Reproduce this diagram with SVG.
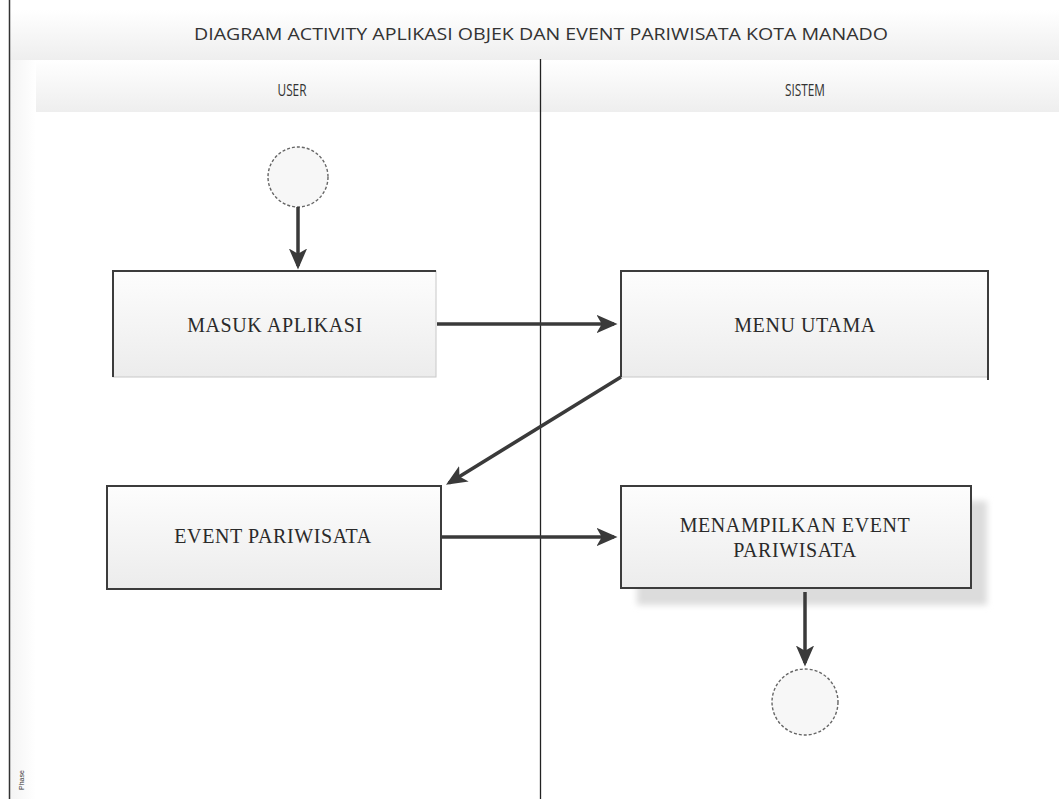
<svg xmlns="http://www.w3.org/2000/svg" width="1059" height="799" viewBox="0 0 1059 799">
  <style>
    .hdr { font-family: "Open Sans", "Liberation Sans", sans-serif; font-size: 17px; fill: #333; text-anchor: middle; }
    .lbl { font-family: "Liberation Serif", "Times New Roman", serif; font-size: 20px; letter-spacing: 0.6px; fill: #2a2a2a; text-anchor: middle; }
    .box { fill: url(#boxFill); stroke: #c8c8c8; stroke-width: 1; }
    .edge { fill: none; stroke: #3c3c3c; stroke-width: 2; }
    .term { fill: #f7f7f7; stroke: #666; stroke-width: 1.4; stroke-dasharray: 3 2; }
    .flow { stroke: #3a3a3a; stroke-width: 3.5; fill: none; marker-end: url(#arrow); }
  </style>
  <defs>
    <linearGradient id="boxFill" x1="0" y1="0" x2="0" y2="1">
      <stop offset="0" stop-color="#fdfdfd"/>
      <stop offset="1" stop-color="#ececec"/>
    </linearGradient>
    <linearGradient id="bandFill" x1="0" y1="0" x2="0" y2="1">
      <stop offset="0" stop-color="#ffffff"/>
      <stop offset="1" stop-color="#eeeeee"/>
    </linearGradient>
    <linearGradient id="phaseFill" x1="0" y1="0" x2="1" y2="0">
      <stop offset="0" stop-color="#f4f4f4"/>
      <stop offset="1" stop-color="#ffffff"/>
    </linearGradient>
    <filter id="soft" x="-10%" y="-10%" width="120%" height="120%">
      <feGaussianBlur stdDeviation="3"/>
    </filter>
    <marker id="arrow" markerWidth="6" markerHeight="6" refX="5" refY="3" orient="auto" markerUnits="strokeWidth">
      <path d="M0,0.4 L6,3 L0,5.6 L1.5,3 Z" fill="#3a3a3a"/>
    </marker>
  </defs>

  <rect width="1059" height="799" fill="#ffffff"/>

  <!-- pool frame, title and lane headers -->
  <g id="pool">
    <rect x="10" y="10" width="1049" height="50" fill="url(#bandFill)"/>
    <rect x="36" y="60" width="1023" height="52" fill="url(#bandFill)"/>
    <rect x="10" y="60" width="26" height="739" fill="url(#phaseFill)"/>
    <line x1="9.5" y1="0" x2="9.5" y2="799" stroke="#333" stroke-width="1.5"/>
    <line x1="540.5" y1="59" x2="540.5" y2="799" stroke="#222" stroke-width="1.3"/>
    <text class="hdr" x="541" y="40" textLength="694" lengthAdjust="spacingAndGlyphs">DIAGRAM ACTIVITY APLIKASI OBJEK DAN EVENT PARIWISATA KOTA MANADO</text>
    <text class="hdr" x="292" y="96" textLength="29" lengthAdjust="spacingAndGlyphs">USER</text>
    <text class="hdr" x="805" y="96" textLength="40" lengthAdjust="spacingAndGlyphs">SISTEM</text>
    <text x="0" y="0" transform="translate(24,790) rotate(-90)" font-family="Liberation Sans, sans-serif" font-size="7" fill="#333">Phase</text>
  </g>

  <!-- start node -->
  <g id="start">
    <circle class="term" cx="298" cy="177" r="30"/>
  </g>

  <!-- actions -->
  <g id="masuk-aplikasi">
    <rect x="113" y="271" width="323" height="106" class="box"/>
    <path class="edge" d="M113,377 V271 H436"/>
    <text class="lbl" x="275" y="332">MASUK APLIKASI</text>
  </g>

  <g id="menu-utama">
    <rect x="621" y="271" width="367" height="106" class="box"/>
    <path class="edge" d="M621,377 V271 H988 V380"/>
    <text class="lbl" x="805" y="332">MENU UTAMA</text>
  </g>

  <g id="event-pariwisata">
    <rect x="107" y="486" width="334" height="103" class="box"/>
    <path class="edge" d="M107,486 H441 V589 H107 Z"/>
    <text class="lbl" x="273" y="543">EVENT PARIWISATA</text>
  </g>

  <g id="menampilkan-event">
    <rect x="637" y="501" width="350" height="104" fill="#dcdcdc" filter="url(#soft)"/>
    <rect x="621" y="486" width="350" height="102" class="box"/>
    <path class="edge" d="M621,486 H971 V588 H621 Z"/>
    <text class="lbl" x="795" y="532">MENAMPILKAN EVENT</text>
    <text class="lbl" x="795" y="557">PARIWISATA</text>
  </g>

  <!-- end node -->
  <g id="end">
    <circle class="term" cx="805" cy="702" r="33"/>
  </g>

  <!-- control flows -->
  <g id="connectors">
    <line class="flow" x1="298" y1="207" x2="298" y2="266"/>
    <line class="flow" x1="437" y1="324" x2="614" y2="324"/>
    <line class="flow" x1="621" y1="377" x2="449" y2="483"/>
    <line class="flow" x1="442" y1="537" x2="614" y2="537"/>
    <line class="flow" x1="805" y1="592" x2="805" y2="663"/>
  </g>
</svg>
